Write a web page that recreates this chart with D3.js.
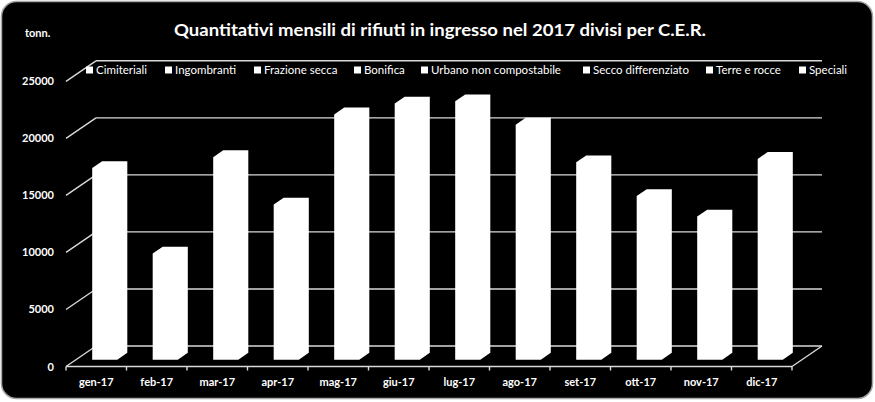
<!DOCTYPE html>
<html><head><meta charset="utf-8">
<script src="https://cdn.jsdelivr.net/npm/d3@7"></script>
<style>html,body{margin:0;padding:0;background:#fff;}svg{display:block;}</style>
</head><body>
<svg id="chart" width="875" height="402"></svg>
<script>
const months = ["gen-17","feb-17","mar-17","apr-17","mag-17","giu-17","lug-17","ago-17","set-17","ott-17","nov-17","dic-17"];
// Totals per month (all eight stacked series are drawn in white, so only the totals are readable)
const totals = [16800, 9300, 17750, 13600, 21500, 22450, 22650, 20600, 17300, 14350, 12550, 17600];
const seriesNames = ["Cimiteriali","Ingombranti","Frazione secca","Bonifica","Urbano non compostabile","Secco differenziato","Terre e rocce","Speciali"];
const yTicks = [0, 5000, 10000, 15000, 20000, 25000];
const titleText = "Quantitativi mensili di rifiuti in ingresso nel 2017 divisi per C.E.R.";
const unitLabel = "tonn.";

const svg = d3.select("#chart");
const font = "Lato, 'Open Sans', sans-serif";
const DX = 30, DY = -20.5;     // full depth offset
const gridColor = "#d9d9d9";

svg.append("rect").attr("x",1.5).attr("y",1.5).attr("width",871).attr("height",397)
  .attr("rx",15).attr("fill","#000").attr("stroke","#a6a6a6").attr("stroke-width",1.5);

const x = d3.scaleBand().domain(months).range([66, 792]).paddingInner(0).paddingOuter(0);
const y = d3.scaleLinear().domain([0, 25000]).range([366.5, 81.3]);
const P = (px, v, d) => [px + DX*d, y(v) + DY*d];

// title & unit
svg.append("text").attr("x",174).attr("y",36).attr("fill","#fff")
  .attr("font-family",font).attr("font-weight","bold").attr("font-size",17)
  .attr("textLength",532).attr("lengthAdjust","spacingAndGlyphs").text(titleText);
svg.append("text").attr("x",25).attr("y",37).attr("fill","#fff")
  .attr("font-family",font).attr("font-weight","bold").attr("font-size",11).text(unitLabel);

// back wall gridlines + left diagonals
const g = svg.append("g").attr("stroke",gridColor).attr("stroke-width",1.4).attr("fill","none");
yTicks.forEach(t => {
  const a = P(66, t, 0), b = P(66, t, 1), c = P(792, t, 1);
  g.append("line").attr("x1",a[0]).attr("y1",a[1]).attr("x2",b[0]).attr("y2",b[1]);
  g.append("line").attr("x1",b[0]).attr("y1",b[1]).attr("x2",c[0]).attr("y2",c[1]);
});
// floor right edge
{ const a = P(792,0,0), b = P(792,0,1);
  g.append("line").attr("x1",a[0]).attr("y1",a[1]).attr("x2",b[0]).attr("y2",b[1]); }
// front axis
g.append("line").attr("x1",66).attr("y1",y(0)).attr("x2",792).attr("y2",y(0));
months.concat(["end"]).forEach((m,i) => {
  const xx = 66 + i*x.step();
  g.append("line").attr("x1",xx).attr("y1",y(0)).attr("x2",xx).attr("y2",y(0)+4);
});

// y labels
svg.append("g").selectAll("text").data(yTicks).join("text")
  .attr("x",54).attr("y",d=>y(d)+4).attr("text-anchor","end").attr("fill","#fff")
  .attr("font-family",font).attr("font-weight","bold").attr("font-size",11).text(d=>d);

// x labels
svg.append("g").selectAll("text").data(months).join("text")
  .attr("x",d=>x(d)+x.bandwidth()/2).attr("y",386).attr("text-anchor","middle").attr("fill","#fff")
  .attr("font-family",font).attr("font-weight","bold").attr("font-size",11).text(d=>d);

// bars (3D silhouette)
const bw = x.bandwidth()*0.415;
const d0 = 1/3, d1 = 2/3;
svg.append("g").selectAll("path").data(months.map((m,i)=>({m, v: totals[i]}))).join("path")
  .attr("fill","#fff")
  .attr("d", d => {
    const cx = x(d.m) + x.bandwidth()/2 - 1.5;
    const x0 = cx - bw/2, x1 = cx + bw/2;
    const pts = [P(x0,0,d0), P(x0,d.v,d0), P(x0,d.v,d1), P(x1,d.v,d1), P(x1,0,d1), P(x1,0,d0)];
    return "M" + pts.map(p=>p.join(",")).join("L") + "Z";
  });

// legend
const legX = [86, 165, 254, 354, 421, 583, 706, 799];
const leg = svg.append("g").selectAll("g").data(seriesNames).join("g")
  .attr("transform",(d,i)=>`translate(${legX[i]},0)`);
leg.append("rect").attr("x",0).attr("y",66.5).attr("width",7).attr("height",7).attr("fill","#fff");
leg.append("text").attr("x",10).attr("y",74).attr("fill","#fff")
  .attr("font-family",font).attr("font-size",11.5).text(d=>d);
</script>
</body></html>
